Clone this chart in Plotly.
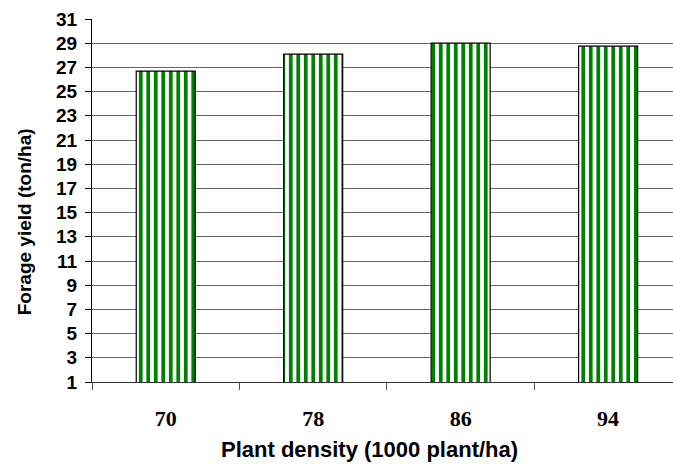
import plotly.graph_objects as go

categories = ["70", "78", "86", "94"]
forage_yield = [26.7, 28.1, 29.0, 28.75]
y_ticks = list(range(1, 32, 2))
x_title = "Plant density (1000 plant/ha)"
y_title = "Forage yield (ton/ha)"

fig = go.Figure()
fig.add_trace(go.Bar(
    x=categories,
    y=forage_yield,
    base=0,
    width=0.4,
    marker=dict(
        color="white",
        line=dict(color="black", width=1.2),
        pattern=dict(shape="|", fgcolor="#008000", bgcolor="white", fgopacity=1,
                     size=7.5, solidity=0.5, fillmode="replace"),
    ),
    showlegend=False,
))

fig.update_layout(
    width=673, height=464,
    margin=dict(l=92, r=0, t=19, b=82),
    paper_bgcolor="white", plot_bgcolor="white",
    xaxis=dict(
        type="category",
        range=[-0.5, 3.44],
        tickson="boundaries",
        ticks="outside", ticklen=7, tickcolor="#555555", tickwidth=1,
        showline=True, linecolor="#333333", linewidth=1,
        showgrid=False,
        tickfont=dict(family="Liberation Serif", size=22, color="black", weight="bold"),
        ticklabelstandoff=17,
    ),
    yaxis=dict(
        range=[1, 31],
        tickvals=y_ticks,
        ticktext=[str(v) for v in y_ticks],
        ticks="outside", ticklen=6, tickcolor="black", tickwidth=1,
        showline=True, linecolor="black", linewidth=1,
        showgrid=True, gridcolor="#666666", gridwidth=1,
        tickfont=dict(family="Liberation Sans", size=19, color="black", weight="bold"),
        ticklabelstandoff=4,
        zeroline=False,
    ),
    annotations=[
        dict(text="<b>" + x_title + "</b>", xref="paper", yref="paper", x=0.5, y=0,
             xanchor="center", yanchor="middle", xshift=-13, yshift=-67, showarrow=False,
             font=dict(family="Liberation Sans", size=22, color="black")),
        dict(text="<b>" + y_title + "</b>", xref="paper", yref="paper", x=0, y=0.44,
             xanchor="center", yanchor="middle", xshift=-68, textangle=-90, showarrow=False,
             font=dict(family="Liberation Sans", size=19, color="black")),
    ],
)

fig.write_html("out.html")
